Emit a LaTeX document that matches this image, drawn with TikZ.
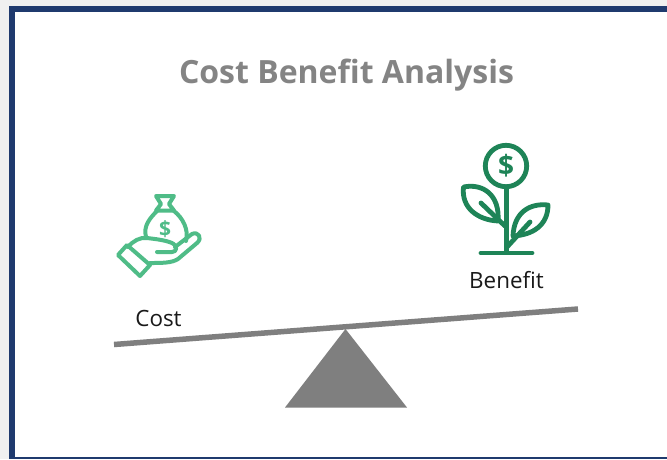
\documentclass[tikz,border=0pt]{standalone}
\usepackage{fontspec}
\setmainfont{Open Sans}
\definecolor{navy}{HTML}{1F3A6E}
\definecolor{titlegrey}{HTML}{848484}
\definecolor{beamgrey}{HTML}{7F7F7F}
\definecolor{mint}{HTML}{4FBC87}
\definecolor{forest}{HTML}{1E8457}
\tikzset{
  costicon/.style={draw=mint,line width=4pt,line join=round,line cap=round},
  beneficon/.style={draw=forest,line width=4.8pt,line join=round,line cap=round},
  labeltext/.style={font=\fontsize{22.4}{24}\selectfont,text=black!90,inner sep=0pt}
}
\begin{document}
\begin{tikzpicture}[x=1pt,y=-1pt]
\useasboundingbox (0,0) rectangle (667,459);
\fill[black!6] (0,0) rectangle (667,459);
\fill[white] (11,9) rectangle (667,459);
\fill[navy] (8.5,5.5) rectangle (667,12);
\fill[navy] (8.5,5.5) rectangle (14.5,459);
\fill[navy] (8.5,456.5) rectangle (667,459);
\node[font=\bfseries\fontsize{32}{36}\selectfont,text=titlegrey,inner sep=0pt] (title) at (346.5,75.5) {Cost Benefit Analysis};
\node[labeltext] (cost) at (158.5,318) {Cost};
\node[labeltext] (benefit) at (506.5,280) {Benefit};
% seesaw
\draw[beamgrey,line width=5.5pt] (114,344.5) -- (578,309);
\fill[beamgrey] (345.5,329) -- (407,407.5) -- (285,407.5) -- cycle;
% cost icon
\begin{scope}
\draw[costicon] (156,196) -- (174,196) -- (169,204) -- (174,210.5) -- (156,210.5) -- (161,204) -- cycle;
\draw[costicon] (157,211) .. controls (150,218) and (143,226) .. (146,237);
\draw[costicon] (174,211) .. controls (183,218) and (189,230) .. (186,241);
\draw[costicon] (118,255) -- (127,245) -- (150,265) -- (140,276) -- cycle;
\draw[costicon] (128,247) .. controls (133,241) and (140,237) .. (147,238) .. controls (155,239) and (165,240) .. (172,243) .. controls (178,246) and (177,252) .. (172,252) -- (157,252);
\draw[costicon] (175,247) -- (192,234) .. controls (198,231) and (203,238) .. (197,243) -- (178,259) .. controls (172,263) and (162,263) .. (150,263);
\node[inner sep=0pt,font=\bfseries\fontsize{21}{21}\selectfont,text=mint] (costdollar) at (165,229) {\$};
\end{scope}
% benefit icon
\begin{scope}
\draw[beneficon] (506,166) circle (20.7);
\node[inner sep=0pt,font=\bfseries\fontsize{28}{28}\selectfont,text=forest] (bendollar) at (506,166) {\$};
\draw[beneficon] (506.5,188) -- (506.5,252);
\draw[beneficon] (481,253) -- (532,253);
\draw[beneficon] (463.5,187) .. controls (483,183) and (500,195) .. (498,221) .. controls (478,220) and (461,208) .. (463.5,187) -- cycle;
\draw[beneficon] (481,203) -- (505,226);
\draw[beneficon] (548,205) .. controls (530,203) and (514,212) .. (513,236) .. controls (533,235) and (548,225) .. (548,205) -- cycle;
\draw[beneficon] (530,222) -- (507,247);
\end{scope}
\end{tikzpicture}
\end{document}
